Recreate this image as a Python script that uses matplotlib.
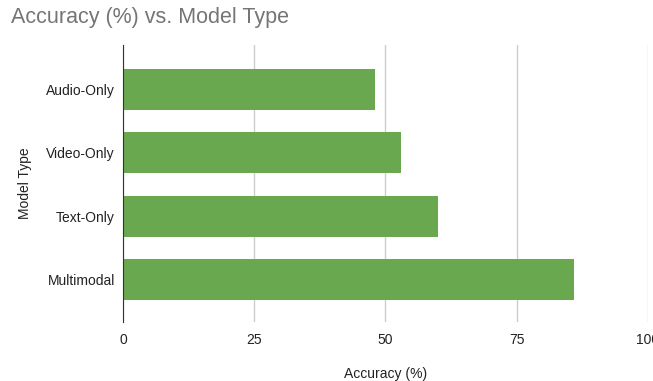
import matplotlib
matplotlib.use("Agg")
import matplotlib.pyplot as plt

# 数据：各模型类型的准确率
model_types = ["Audio-Only", "Video-Only", "Text-Only", "Multimodal"]
accuracy = [48, 53, 60, 86]
x_ticks = [0, 25, 50, 75, 100]

plt.rcParams["font.family"] = ["Liberation Sans", "DejaVu Sans"]

fig = plt.figure(figsize=(6.53, 3.81), dpi=100)
ax = fig.add_axes([0.1888, 0.1549, 0.8031, 0.7270])

ypos = list(range(len(model_types)))
ax.barh(ypos, accuracy, height=0.65, color="#6aa84f", zorder=3)

ax.set_xlim(0, 100)
ax.set_ylim(3.67, -0.70)
ax.set_xticks(x_ticks)
ax.set_xticklabels([str(t) for t in x_ticks], fontsize=10, color="#222222")
ax.set_yticks(ypos)
ax.set_yticklabels(model_types, fontsize=10, color="#222222")
ax.tick_params(axis="both", length=0)
ax.tick_params(axis="x", pad=8)
ax.tick_params(axis="y", pad=6)

ax.grid(axis="x", color="#cccccc", linewidth=1, zorder=0)
for side in ["top", "right", "bottom"]:
    ax.spines[side].set_visible(False)
ax.spines["left"].set_color("#333333")
ax.spines["left"].set_zorder(4)

ax.set_xlabel("Accuracy (%)", fontsize=10, color="#222222", labelpad=14)
ax.set_ylabel("Model Type", fontsize=10, color="#222222", labelpad=10)

fig.text(11 / 653, 1 - 18 / 381, "Accuracy (%) vs. Model Type", fontsize=15.5,
         color="#757575", ha="left", va="center")

fig.savefig("out.png", dpi=100)
